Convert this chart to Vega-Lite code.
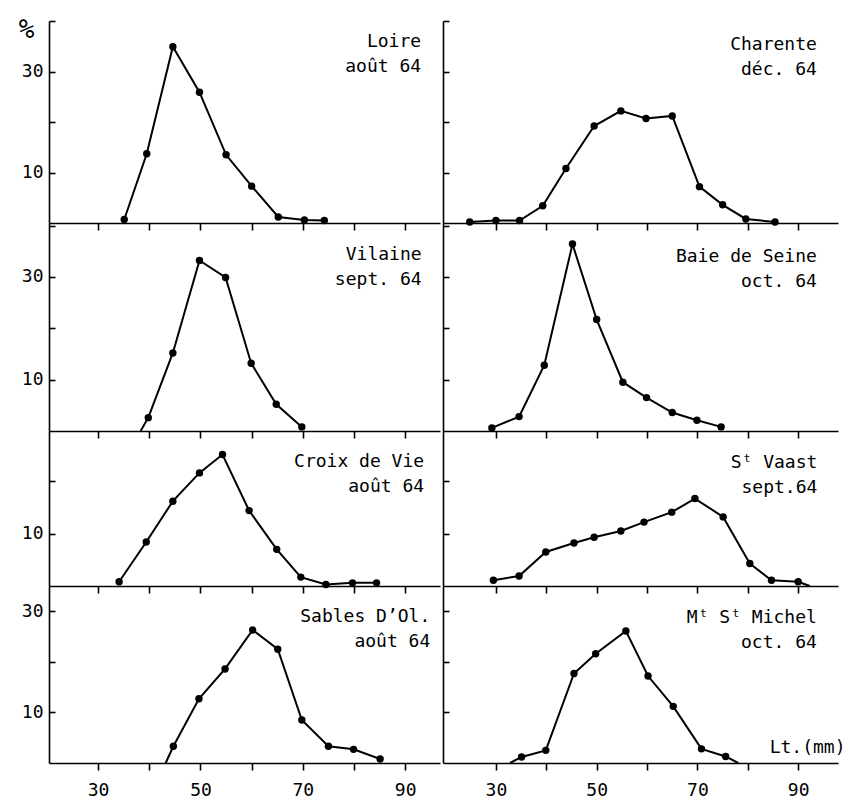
{
  "$schema": "https://vega.github.io/schema/vega-lite/v6.json",
  "background": "white",
  "padding": {"left": 18, "top": 16, "right": 5, "bottom": 0},
  "data": {"name": "freq"},
  "datasets": {
    "freq": [
      {"panel": "Loire", "mm": 35.1, "pct": 0.7},
      {"panel": "Loire", "mm": 39.5, "pct": 13.7},
      {"panel": "Loire", "mm": 44.6, "pct": 34.9},
      {"panel": "Loire", "mm": 49.8, "pct": 25.9},
      {"panel": "Loire", "mm": 55.0, "pct": 13.5},
      {"panel": "Loire", "mm": 60.0, "pct": 7.3},
      {"panel": "Loire", "mm": 65.2, "pct": 1.2},
      {"panel": "Loire", "mm": 70.3, "pct": 0.6},
      {"panel": "Loire", "mm": 74.2, "pct": 0.5},
      {"panel": "Charente", "mm": 24.8, "pct": 0.2},
      {"panel": "Charente", "mm": 30.0, "pct": 0.5},
      {"panel": "Charente", "mm": 34.7, "pct": 0.5},
      {"panel": "Charente", "mm": 39.3, "pct": 3.4},
      {"panel": "Charente", "mm": 43.9, "pct": 10.8},
      {"panel": "Charente", "mm": 49.5, "pct": 19.2},
      {"panel": "Charente", "mm": 54.8, "pct": 22.2},
      {"panel": "Charente", "mm": 59.8, "pct": 20.7},
      {"panel": "Charente", "mm": 65.0, "pct": 21.2},
      {"panel": "Charente", "mm": 70.4, "pct": 7.2},
      {"panel": "Charente", "mm": 75.0, "pct": 3.6},
      {"panel": "Charente", "mm": 79.6, "pct": 0.8},
      {"panel": "Charente", "mm": 85.4, "pct": 0.2},
      {"panel": "Vilaine", "mm": 38.3, "pct": 0},
      {"panel": "Vilaine", "mm": 39.8, "pct": 2.6},
      {"panel": "Vilaine", "mm": 44.6, "pct": 15.2},
      {"panel": "Vilaine", "mm": 49.8, "pct": 33.2},
      {"panel": "Vilaine", "mm": 54.9, "pct": 29.9},
      {"panel": "Vilaine", "mm": 59.9, "pct": 13.2},
      {"panel": "Vilaine", "mm": 64.8, "pct": 5.2},
      {"panel": "Vilaine", "mm": 69.8, "pct": 0.8},
      {"panel": "Baie", "mm": 29.2, "pct": 0.6},
      {"panel": "Baie", "mm": 34.6, "pct": 2.8},
      {"panel": "Baie", "mm": 39.6, "pct": 12.8},
      {"panel": "Baie", "mm": 45.2, "pct": 36.4},
      {"panel": "Baie", "mm": 50.0, "pct": 21.7},
      {"panel": "Baie", "mm": 55.2, "pct": 9.5},
      {"panel": "Baie", "mm": 59.9, "pct": 6.5},
      {"panel": "Baie", "mm": 65.0, "pct": 3.6},
      {"panel": "Baie", "mm": 69.9, "pct": 2.1},
      {"panel": "Baie", "mm": 74.7, "pct": 0.8},
      {"panel": "Croix", "mm": 34.1, "pct": 0.8},
      {"panel": "Croix", "mm": 39.4, "pct": 8.4},
      {"panel": "Croix", "mm": 44.6, "pct": 16.2},
      {"panel": "Croix", "mm": 49.8, "pct": 21.6},
      {"panel": "Croix", "mm": 54.3, "pct": 25.1},
      {"panel": "Croix", "mm": 59.5, "pct": 14.4},
      {"panel": "Croix", "mm": 64.9, "pct": 7.0},
      {"panel": "Croix", "mm": 69.6, "pct": 1.7},
      {"panel": "Croix", "mm": 74.5, "pct": 0.3},
      {"panel": "Croix", "mm": 79.7, "pct": 0.6},
      {"panel": "Croix", "mm": 84.4, "pct": 0.6},
      {"panel": "Vaast", "mm": 29.5, "pct": 1.1},
      {"panel": "Vaast", "mm": 34.6, "pct": 1.9},
      {"panel": "Vaast", "mm": 39.9, "pct": 6.5},
      {"panel": "Vaast", "mm": 45.5, "pct": 8.2},
      {"panel": "Vaast", "mm": 49.5, "pct": 9.3},
      {"panel": "Vaast", "mm": 54.8, "pct": 10.5},
      {"panel": "Vaast", "mm": 59.4, "pct": 12.2},
      {"panel": "Vaast", "mm": 64.9, "pct": 14.1},
      {"panel": "Vaast", "mm": 69.5, "pct": 16.7},
      {"panel": "Vaast", "mm": 75.1, "pct": 13.2},
      {"panel": "Vaast", "mm": 80.4, "pct": 4.3},
      {"panel": "Vaast", "mm": 84.7, "pct": 1.1},
      {"panel": "Vaast", "mm": 90.0, "pct": 0.8},
      {"panel": "Vaast", "mm": 92.3, "pct": 0},
      {"panel": "Sables", "mm": 43.2, "pct": 0},
      {"panel": "Sables", "mm": 44.7, "pct": 3.3},
      {"panel": "Sables", "mm": 49.7, "pct": 12.7},
      {"panel": "Sables", "mm": 54.8, "pct": 18.6},
      {"panel": "Sables", "mm": 60.2, "pct": 26.3},
      {"panel": "Sables", "mm": 65.1, "pct": 22.5},
      {"panel": "Sables", "mm": 69.8, "pct": 8.5},
      {"panel": "Sables", "mm": 75.0, "pct": 3.3},
      {"panel": "Sables", "mm": 79.9, "pct": 2.7},
      {"panel": "Sables", "mm": 85.1, "pct": 0.8},
      {"panel": "Michel", "mm": 32.8, "pct": 0},
      {"panel": "Michel", "mm": 35.1, "pct": 1.2},
      {"panel": "Michel", "mm": 39.9, "pct": 2.5},
      {"panel": "Michel", "mm": 45.5, "pct": 17.7},
      {"panel": "Michel", "mm": 49.8, "pct": 21.6},
      {"panel": "Michel", "mm": 55.8, "pct": 26.1},
      {"panel": "Michel", "mm": 60.2, "pct": 17.2},
      {"panel": "Michel", "mm": 65.2, "pct": 11.2},
      {"panel": "Michel", "mm": 70.8, "pct": 2.8},
      {"panel": "Michel", "mm": 75.6, "pct": 1.3},
      {"panel": "Michel", "mm": 78.1, "pct": 0}
    ]
  },
  "columns": 2,
  "align": "each",
  "bounds": "flush",
  "spacing": {"row": 0, "column": 3},
  "concat": [
    {
      "width": 391, "height": 202,
      "layer": [
        {
          "transform": [{"filter": "datum.panel === 'Loire'"}],
          "encoding": {
            "x": {"field": "mm", "type": "quantitative", "title": null, "scale": {"domain": [20.4, 96.8], "nice": false, "zero": false}, "axis": {"values": [30, 40, 50, 60, 70, 80, 90], "labels": false}},
            "y": {"field": "pct", "type": "quantitative", "scale": {"domain": [0, 40], "nice": false}, "axis": {"values": [10, 20, 30, 40], "labelExpr": "datum.value == 10 || datum.value == 30 ? datum.label : ''", "title": "%", "titleAngle": 0, "titleX": -23, "titleY": 16, "titleAlign": "center", "titleBaseline": "alphabetic", "titleFontSize": 26}}
          },
          "layer": [
            {"mark": {"type": "line", "color": "black", "strokeWidth": 2}},
            {"transform": [{"filter": "datum.pct > 0"}], "mark": {"type": "point", "filled": true, "color": "black", "size": 55, "opacity": 1}}
          ]
        },
        {"data": {"values": [{"label": "Loire\naoût 64"}]}, "mark": {"type": "text"}, "encoding": {"x": {"datum": 93.1}, "y": {"datum": 34.85}, "text": {"field": "label", "type": "nominal"}}}
      ]
    },
    {
      "width": 395, "height": 202,
      "layer": [
        {
          "transform": [{"filter": "datum.panel === 'Charente'"}],
          "encoding": {
            "x": {"field": "mm", "type": "quantitative", "title": null, "scale": {"domain": [19.5, 97.9], "nice": false, "zero": false}, "axis": {"values": [30, 40, 50, 60, 70, 80, 90], "labels": false}},
            "y": {"field": "pct", "type": "quantitative", "title": null, "scale": {"domain": [0, 40], "nice": false}, "axis": {"values": [10, 20, 30, 40], "labels": false}}
          },
          "layer": [
            {"mark": {"type": "line", "color": "black", "strokeWidth": 2}},
            {"transform": [{"filter": "datum.pct > 0"}], "mark": {"type": "point", "filled": true, "color": "black", "size": 55, "opacity": 1}}
          ]
        },
        {"data": {"values": [{"label": "Charente\ndéc. 64"}]}, "mark": {"type": "text"}, "encoding": {"x": {"datum": 93.7}, "y": {"datum": 34.3}, "text": {"field": "label", "type": "nominal"}}}
      ]
    },
    {
      "width": 391, "height": 208,
      "layer": [
        {
          "transform": [{"filter": "datum.panel === 'Vilaine'"}],
          "encoding": {
            "x": {"field": "mm", "type": "quantitative", "title": null, "scale": {"domain": [20.4, 96.8], "nice": false, "zero": false}, "axis": {"values": [30, 40, 50, 60, 70, 80, 90], "labels": false}},
            "y": {"field": "pct", "type": "quantitative", "title": null, "scale": {"domain": [0, 40.5], "nice": false}, "axis": {"values": [10, 20, 30, 40], "labelExpr": "datum.value == 10 || datum.value == 30 ? datum.label : ''"}}
          },
          "layer": [
            {"mark": {"type": "line", "color": "black", "strokeWidth": 2}},
            {"transform": [{"filter": "datum.pct > 0"}], "mark": {"type": "point", "filled": true, "color": "black", "size": 55, "opacity": 1}}
          ]
        },
        {"data": {"values": [{"label": "Vilaine\nsept. 64"}]}, "mark": {"type": "text"}, "encoding": {"x": {"datum": 93.2}, "y": {"datum": 33.2}, "text": {"field": "label", "type": "nominal"}}}
      ]
    },
    {
      "width": 395, "height": 208,
      "layer": [
        {
          "transform": [{"filter": "datum.panel === 'Baie'"}],
          "encoding": {
            "x": {"field": "mm", "type": "quantitative", "title": null, "scale": {"domain": [19.5, 97.9], "nice": false, "zero": false}, "axis": {"values": [30, 40, 50, 60, 70, 80, 90], "labels": false}},
            "y": {"field": "pct", "type": "quantitative", "title": null, "scale": {"domain": [0, 40.5], "nice": false}, "axis": {"values": [10, 20, 30, 40], "labels": false}}
          },
          "layer": [
            {"mark": {"type": "line", "color": "black", "strokeWidth": 2}},
            {"transform": [{"filter": "datum.pct > 0"}], "mark": {"type": "point", "filled": true, "color": "black", "size": 55, "opacity": 1}}
          ]
        },
        {"data": {"values": [{"label": "Baie de Seine\noct. 64"}]}, "mark": {"type": "text"}, "encoding": {"x": {"datum": 93.7}, "y": {"datum": 32.9}, "text": {"field": "label", "type": "nominal"}}}
      ]
    },
    {
      "width": 391, "height": 155,
      "layer": [
        {
          "transform": [{"filter": "datum.panel === 'Croix'"}],
          "encoding": {
            "x": {"field": "mm", "type": "quantitative", "title": null, "scale": {"domain": [20.4, 96.8], "nice": false, "zero": false}, "axis": {"values": [30, 40, 50, 60, 70, 80, 90], "labels": false}},
            "y": {"field": "pct", "type": "quantitative", "title": null, "scale": {"domain": [0, 29.6], "nice": false}, "axis": {"values": [10, 20], "labelExpr": "datum.value == 10 ? datum.label : ''"}}
          },
          "layer": [
            {"mark": {"type": "line", "color": "black", "strokeWidth": 2}},
            {"transform": [{"filter": "datum.pct > 0"}], "mark": {"type": "point", "filled": true, "color": "black", "size": 55, "opacity": 1}}
          ]
        },
        {"data": {"values": [{"label": "Croix de Vie\naoût 64"}]}, "mark": {"type": "text"}, "encoding": {"x": {"datum": 93.7}, "y": {"datum": 22.7}, "text": {"field": "label", "type": "nominal"}}}
      ]
    },
    {
      "width": 395, "height": 155,
      "layer": [
        {
          "transform": [{"filter": "datum.panel === 'Vaast'"}],
          "encoding": {
            "x": {"field": "mm", "type": "quantitative", "title": null, "scale": {"domain": [19.5, 97.9], "nice": false, "zero": false}, "axis": {"values": [30, 40, 50, 60, 70, 80, 90], "labels": false}},
            "y": {"field": "pct", "type": "quantitative", "title": null, "scale": {"domain": [0, 29.6], "nice": false}, "axis": {"values": [10, 20], "labels": false}}
          },
          "layer": [
            {"mark": {"type": "line", "color": "black", "strokeWidth": 2}},
            {"transform": [{"filter": "datum.pct > 0"}], "mark": {"type": "point", "filled": true, "color": "black", "size": 55, "opacity": 1}}
          ]
        },
        {"data": {"values": [{"label": "Sᵗ Vaast\nsept.64"}]}, "mark": {"type": "text"}, "encoding": {"x": {"datum": 93.8}, "y": {"datum": 22.5}, "text": {"field": "label", "type": "nominal"}}}
      ]
    },
    {
      "width": 391, "height": 177,
      "layer": [
        {
          "transform": [{"filter": "datum.panel === 'Sables'"}],
          "encoding": {
            "x": {"field": "mm", "type": "quantitative", "title": null, "scale": {"domain": [20.4, 96.8], "nice": false, "zero": false}, "axis": {"values": [30, 40, 50, 60, 70, 80, 90], "labelExpr": "datum.value % 20 == 10 ? datum.label : ''"}},
            "y": {"field": "pct", "type": "quantitative", "title": null, "scale": {"domain": [0, 35], "nice": false}, "axis": {"values": [10, 20, 30], "labelExpr": "datum.value == 10 || datum.value == 30 ? datum.label : ''"}}
          },
          "layer": [
            {"mark": {"type": "line", "color": "black", "strokeWidth": 2}},
            {"transform": [{"filter": "datum.pct > 0"}], "mark": {"type": "point", "filled": true, "color": "black", "size": 55, "opacity": 1}}
          ]
        },
        {"data": {"values": [{"label": "Sables D’Ol.\naoût 64"}]}, "mark": {"type": "text"}, "encoding": {"x": {"datum": 94.9}, "y": {"datum": 27.9}, "text": {"field": "label", "type": "nominal"}}}
      ]
    },
    {
      "width": 395, "height": 177,
      "layer": [
        {
          "transform": [{"filter": "datum.panel === 'Michel'"}],
          "encoding": {
            "x": {"field": "mm", "type": "quantitative", "scale": {"domain": [19.5, 97.9], "nice": false, "zero": false}, "axis": {"values": [30, 40, 50, 60, 70, 80, 90], "labelExpr": "datum.value % 20 == 10 ? datum.label : ''", "title": "Lt.(mm)", "titleX": 402, "titleY": -16, "titleAlign": "right", "titleBaseline": "middle", "titleFontSize": 18}},
            "y": {"field": "pct", "type": "quantitative", "title": null, "scale": {"domain": [0, 35], "nice": false}, "axis": {"values": [10, 20, 30], "labels": false}}
          },
          "layer": [
            {"mark": {"type": "line", "color": "black", "strokeWidth": 2}},
            {"transform": [{"filter": "datum.pct > 0"}], "mark": {"type": "point", "filled": true, "color": "black", "size": 55, "opacity": 1}}
          ]
        },
        {"data": {"values": [{"label": "Mᵗ Sᵗ Michel\noct. 64"}]}, "mark": {"type": "text"}, "encoding": {"x": {"datum": 93.7}, "y": {"datum": 27.7}, "text": {"field": "label", "type": "nominal"}}}
      ]
    }
  ],
  "config": {
    "view": {"stroke": null},
    "text": {"font": "DejaVu Sans Mono", "fontSize": 18, "align": "right", "baseline": "alphabetic", "lineBreak": "\n", "lineHeight": 25, "color": "black"},
    "axis": {"domainColor": "black", "domainWidth": 1.6, "tickColor": "black", "tickWidth": 1.6, "grid": false, "labelFont": "DejaVu Sans Mono", "labelFontSize": 18, "labelColor": "black", "titleFont": "DejaVu Sans Mono", "titleFontWeight": "normal", "titleColor": "black"},
    "axisX": {"tickSize": 7, "labelPadding": 11, "labelFlush": false},
    "axisY": {"tickSize": -6, "labelPadding": 12}
  }
}
